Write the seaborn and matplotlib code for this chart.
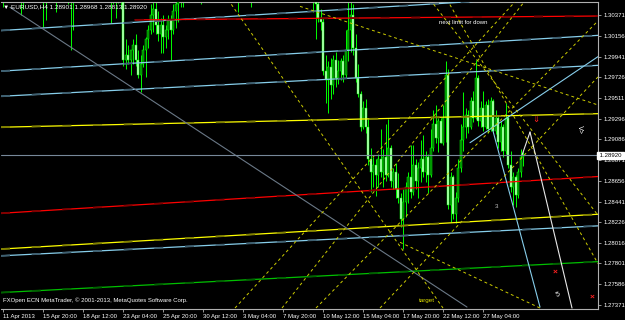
import numpy as np
import matplotlib
matplotlib.use("Agg")
import matplotlib.pyplot as plt
import matplotlib.transforms as mtrans
import seaborn as sns

# ---------------- data ----------------
symbol = "EURUSD,H4"
last_ohlc = ["1.28901", "1.28968", "1.28813", "1.28920"]
current_price = 1.28920
first_open = 1.3063

closes = [1.3069,1.3079,1.3089,1.3084,1.3074,1.3063,1.3058,1.3069,1.3079,1.3094,
 1.3110,1.3115,1.3105,1.3089,1.3074,1.3058,1.3063,1.3074,1.3084,1.3079,
 1.3069,1.3063,1.3074,1.3084,1.3079,1.3069,1.3058,1.3063,1.3074,1.3089,
 1.3105,1.3115,1.3125,1.3136,1.3131,1.3120,1.3110,1.3115,1.3105,1.3094,
 1.3084,1.3074,1.3063,1.3058,1.3069,1.3058,1.3063,1.3053,1.2991,1.2996,
 1.2991,1.3001,1.3006,1.2991,1.2975,1.2986,1.3001,1.3012,1.3022,1.3037,
 1.3043,1.3027,1.3017,1.3027,1.3014,1.3022,1.3032,1.3022,1.3041,1.3048,
 1.3053,1.3058,1.3063,1.3074,1.3084,1.3094,1.3089,1.3079,1.3069,1.3074,
 1.3089,1.3105,1.3120,1.3136,1.3141,1.3146,1.3136,1.3125,1.3115,1.3105,
 1.3094,1.3084,1.3074,1.3069,1.3063,1.3074,1.3084,1.3074,1.3063,1.3058,
 1.3069,1.3084,1.3100,1.3115,1.3131,1.3146,1.3162,1.3156,1.3141,1.3131,
 1.3120,1.3136,1.3125,1.3115,1.3131,1.3146,1.3156,1.3167,1.3151,1.3131,
 1.3110,1.3089,1.3074,1.3063,1.3058,1.3048,1.3034,1.3030,1.2979,1.2970,
 1.2983,1.2965,1.2991,1.2972,1.2979,1.2989,1.2975,1.3001,1.3022,1.3037,
 1.3003,1.2972,1.2955,1.2921,1.2941,1.2921,1.2888,1.2875,1.2882,1.2872,
 1.2888,1.2875,1.2890,1.2872,1.2900,1.2865,1.2875,1.2857,1.2848,1.2826,
 1.2844,1.2859,1.2869,1.2854,1.2882,1.2865,1.2879,1.2888,1.2875,1.2890,
 1.2872,1.2900,1.2924,1.2910,1.2927,1.2905,1.2931,1.2975,1.2841,1.2869,
 1.2831,1.2848,1.2879,1.2908,1.2921,1.2934,1.2921,1.2948,1.2931,1.2972,
 1.2927,1.2941,1.2921,1.2944,1.2919,1.2948,1.2917,1.2931,1.2906,1.2921,
 1.2896,1.2931,1.2882,1.2859,1.2869,1.2851,1.2875,1.2890,1.28920]

highs = [1.3100,1.3094,1.3105,1.3115,1.3110,1.3100,1.3089,1.3084,1.3089,1.3105,
 1.3125,1.3136,1.3141,1.3131,1.3110,1.3094,1.3079,1.3084,1.3100,1.3105,
 1.3100,1.3089,1.3084,1.3094,1.3105,1.3100,1.3084,1.3079,1.3084,1.3100,
 1.3115,1.3131,1.3146,1.3151,1.3156,1.3151,1.3141,1.3136,1.3141,1.3125,
 1.3115,1.3105,1.3094,1.3084,1.3079,1.3084,1.3074,1.3079,1.3069,1.3012,
 1.3006,1.3001,1.3012,1.3017,1.3001,1.2996,1.3006,1.3014,1.3027,1.3048,
 1.3058,1.3053,1.3041,1.3034,1.3037,1.3027,1.3037,1.3037,1.3048,1.3056,
 1.3063,1.3069,1.3074,1.3084,1.3094,1.3105,1.3115,1.3110,1.3094,1.3089,
 1.3100,1.3115,1.3131,1.3146,1.3156,1.3162,1.3167,1.3156,1.3146,1.3136,
 1.3125,1.3115,1.3105,1.3094,1.3089,1.3084,1.3100,1.3105,1.3094,1.3079,
 1.3079,1.3089,1.3110,1.3125,1.3141,1.3156,1.3177,1.3187,1.3182,1.3162,
 1.3151,1.3146,1.3156,1.3146,1.3141,1.3156,1.3172,1.3182,1.3193,1.3172,
 1.3151,1.3131,1.3110,1.3094,1.3084,1.3079,1.3058,1.3043,1.3034,1.2996,
 1.2989,1.2993,1.2996,1.2999,1.2991,1.2993,1.2996,1.3022,1.3058,1.3063,
 1.3048,1.3017,1.2986,1.2958,1.2948,1.2950,1.2929,1.2900,1.2890,1.2888,
 1.2893,1.2919,1.2898,1.2924,1.2929,1.2903,1.2879,1.2884,1.2874,1.2853,
 1.2857,1.2864,1.2875,1.2903,1.2903,1.2888,1.2885,1.2908,1.2913,1.2896,
 1.2893,1.2919,1.2939,1.2944,1.2931,1.2931,1.2944,1.2989,1.2981,1.2875,
 1.2872,1.2854,1.2888,1.2924,1.2957,1.2941,1.2939,1.2952,1.2958,1.2991,
 1.2975,1.2948,1.2958,1.2948,1.2950,1.2952,1.2950,1.2939,1.2934,1.2927,
 1.2924,1.2946,1.2934,1.2896,1.2875,1.2872,1.2879,1.2898,1.28968]

lows = [1.3045,1.3058,1.3063,1.3069,1.3063,1.3058,1.3050,1.3037,1.3043,1.3063,
 1.3079,1.3094,1.3100,1.3084,1.3069,1.3053,1.3025,1.3032,1.3058,1.3063,
 1.3058,1.3040,1.3051,1.3058,1.3069,1.3058,1.3048,1.3001,1.3022,1.3058,
 1.3074,1.3089,1.3100,1.3110,1.3115,1.3110,1.3100,1.3094,1.3100,1.3084,
 1.3074,1.3063,1.3056,1.3029,1.3048,1.3034,1.3049,1.3043,1.2984,1.2981,
 1.2986,1.2975,1.2986,1.2984,1.2972,1.2957,1.2983,1.2973,1.3003,1.3017,
 1.3019,1.3017,1.3010,1.2998,1.2998,1.3003,1.3012,1.2991,1.3017,1.3024,
 1.3030,1.3045,1.3045,1.3050,1.3058,1.3069,1.3079,1.3069,1.3061,1.3048,
 1.3061,1.3074,1.3089,1.3105,1.3120,1.3125,1.3131,1.3115,1.3105,1.3094,
 1.3084,1.3074,1.3063,1.3058,1.3040,1.3055,1.3061,1.3063,1.3053,1.3045,
 1.3051,1.3058,1.3074,1.3089,1.3105,1.3115,1.3131,1.3146,1.3136,1.3120,
 1.3110,1.3105,1.3115,1.3105,1.3100,1.3115,1.3131,1.3141,1.3146,1.3125,
 1.3105,1.3084,1.3069,1.3056,1.3040,1.3012,1.3030,1.3022,1.2975,1.2946,
 1.2936,1.2950,1.2955,1.2963,1.2966,1.2970,1.2968,1.2972,1.2989,1.2999,
 1.2996,1.2968,1.2952,1.2917,1.2919,1.2915,1.2882,1.2854,1.2859,1.2850,
 1.2859,1.2869,1.2859,1.2865,1.2869,1.2859,1.2857,1.2848,1.2843,1.2818,
 1.2795,1.2828,1.2843,1.2848,1.2851,1.2857,1.2848,1.2864,1.2869,1.2864,
 1.2853,1.2869,1.2896,1.2905,1.2895,1.2905,1.2903,1.2906,1.2836,1.2823,
 1.2826,1.2822,1.2844,1.2875,1.2896,1.2910,1.2915,1.2919,1.2926,1.2929,
 1.2922,1.2921,1.2917,1.2919,1.2915,1.2917,1.2915,1.2914,1.2900,1.2896,
 1.2890,1.2893,1.2879,1.2854,1.2841,1.2839,1.2848,1.2869,1.28813]

x_tick_bars = [0, 16, 32, 48, 64, 80, 96, 112, 128, 144, 160, 176, 192]
x_tick_labels = ["11 Apr 2013", "15 Apr 20:00", "18 Apr 12:00", "23 Apr 04:00",
                 "25 Apr 20:00", "30 Apr 12:00", "3 May 04:00", "7 May 20:00",
                 "10 May 12:00", "15 May 04:00", "17 May 20:00", "22 May 12:00",
                 "27 May 04:00"]
y_ticks = [1.30371, 1.30156, 1.29941, 1.29726, 1.29511, 1.29296, 1.29086,
           1.28871, 1.28656, 1.28441, 1.28226, 1.28016, 1.27801, 1.27586, 1.27371]

# drawn objects: (bar1, price1, bar2, price2)
blue_channel = [(-0.8, 1.3021, 238.0, 1.3059), (-0.8, 1.2979, 238.0, 1.3016),
                (-0.8, 1.2953, 238.0, 1.2985), (-0.8, 1.2788, 238.0, 1.2819)]
blue_trend = [(186.8, 1.2905, 238.0, 1.2994), (195.6, 1.2921, 214.8, 1.2735)]
gray_trend = [(2.8, 1.3045, 185.6, 1.2735)]
red_lines = [(52.8, 1.3032, 238.0, 1.3036), (-0.8, 1.2832, 238.0, 1.2870)]
yellow_lines = [(-0.8, 1.2921, 238.0, 1.2935), (-0.8, 1.2795, 238.0, 1.2831)]
green_lines = [(-0.8, 1.2750, 238.0, 1.2782)]
yellow_dashed = [(90.0, 1.3053, 176.0, 1.2734), (118.8, 1.3046, 238.0, 1.2944),
                 (92.8, 1.2734, 205.6, 1.3053), (125.2, 1.2734, 238.0, 1.3031),
                 (150.8, 1.2734, 238.0, 1.2973), (177.6, 1.3053, 238.0, 1.2780),
                 (170.8, 1.3053, 238.0, 1.2830), (111.6, 1.2734, 209.2, 1.3053),
                 (158.8, 1.2802, 214.8, 1.2734)]
white_lines = [(207.6, 1.2892, 210.8, 1.2916), (210.8, 1.2916, 227.6, 1.2734)]
red_marks = [(220.8, 1.2771), (235.6, 1.2745)]

# ---------------- style ----------------
sns.set_theme(style="dark", rc={"axes.facecolor": "black", "figure.facecolor": "black",
                                "axes.grid": False})
plt.rcParams["font.family"] = ["Liberation Sans", "DejaVu Sans"]

W, H = 625, 320
fig = plt.figure(figsize=(W / 100, H / 100), dpi=100, facecolor="black")
ax = fig.add_axes([1 / W, 11 / H, 597 / W, 307 / H])
ax.set_facecolor("black")
ax.set_xlim(-0.8, 238.0)
ax.set_ylim(1.27330, 1.30505)

idx = np.arange(len(closes))
c = np.array(closes)
o = np.r_[first_open, c[:-1]]
h = np.array(highs)
l = np.array(lows)

# candles
ax.vlines(idx, l, h, color="#00ff00", lw=0.7, zorder=2)
bull = c >= o
ax.bar(idx[bull], (c - o)[bull], bottom=o[bull], width=0.8, color="#007a00",
       edgecolor="#00ff00", linewidth=0.35, zorder=3)
ax.bar(idx[~bull], (o - c)[~bull], bottom=c[~bull], width=0.8, color="#c8ffc8",
       edgecolor="#00ff00", linewidth=0.35, zorder=3)


def solid(seg, color, dark, lw=0.9):
    x1, y1, x2, y2 = seg
    sns.lineplot(x=[x1, x2], y=[y1, y2], ax=ax, color=color, lw=lw,
                 estimator=None, sort=False, zorder=4)
    ax.plot([x1, x2], [y1, y2], color=dark, lw=lw + 0.4, dashes=(5, 12), zorder=4)


for s in blue_channel:
    solid(s, "#87ceeb", "#3e5f70")
for s in yellow_lines:
    solid(s, "#ffff00", "#808000")
for s in red_lines:
    solid(s, "#ff0000", "#800000")
for s in green_lines:
    solid(s, "#00c000", "#006000")
for s in blue_trend:
    ax.plot(s[0::2], s[1::2], color="#87ceeb", lw=0.8, zorder=4)
for s in gray_trend:
    ax.plot(s[0::2], s[1::2], color="#6a7886", lw=0.8, zorder=4)
for s in yellow_dashed:
    ax.plot(s[0::2], s[1::2], color="#cccc00", lw=0.7, dashes=(3, 3), zorder=4)
for s in white_lines:
    ax.plot(s[0::2], s[1::2], color="#e8e8e8", lw=0.8, zorder=4)

ax.axhline(current_price, color="#778899", lw=0.8, zorder=4)
for bx, py in red_marks:
    ax.text(bx, py, "\u00d7", color="#ff2020", fontsize=6, ha="center", va="center",
            zorder=6, fontweight="bold")

# annotations
ax.text(174.5, 1.3029, "next limit for down", color="white", fontsize=4.3,
        va="center", ha="left", zorder=6)
ax.text(166.5, 1.2742, "target", color="#e0e000", fontsize=4.5, va="center",
        ha="left", zorder=6)
ax.text(197.5, 1.2839, "3", color="#c0c0c0", fontsize=4.5, va="center",
        ha="center", zorder=6)
ax.text(213.0, 1.2928, "\u21d3", color="#ff2020", fontsize=6, va="center",
        ha="center", zorder=6)
ax.text(232.0, 1.2920, "<\u039b", color="white", fontsize=5, rotation=90,
        va="center", ha="center", zorder=6)
ax.text(222.0, 1.2748, "5", color="white", fontsize=5, rotation=20, va="center",
        ha="center", zorder=6)

# axes styling
for sp in ["left", "bottom", "right", "top"]:
    ax.spines[sp].set_color("#b0b0b0")
    ax.spines[sp].set_linewidth(0.8)
ax.spines["left"].set_visible(False)

ax.yaxis.tick_right()
ax.set_yticks(y_ticks)
ax.set_yticklabels([f"{v:.5f}" for v in y_ticks])
ax.tick_params(axis="y", colors="#b0b0b0", labelcolor="white", labelsize=4.3,
               length=2.5, width=0.6, pad=1.5, right=True, left=False)
ax.set_xticks(x_tick_bars)
ax.set_xticklabels(x_tick_labels)
ax.tick_params(axis="x", colors="#b0b0b0", labelcolor="white", labelsize=4.3,
               length=2.5, width=0.6, pad=1.0, bottom=True)
for lbl in ax.get_xticklabels():
    lbl.set_horizontalalignment("left")
ax.set_xlabel("")
ax.set_ylabel("")

# boxed current price on the scale
trans = mtrans.blended_transform_factory(ax.transAxes, ax.transData)
ax.text(1.0, current_price, " " + last_ohlc[3] + " ", transform=trans, fontsize=4.3,
        color="black", va="center", ha="left", zorder=10, clip_on=False,
        bbox=dict(boxstyle="square,pad=0.15", fc="white", ec="white"))

# header and footer
fig.text(3 / W, 1 - 7 / H, "\u25bc " + symbol + " " + " ".join(last_ohlc),
         color="white", fontsize=4.6, va="center", ha="left")
ax.text(0.004, 0.018, "FXOpen ECN MetaTrader, \u00a9 2001-2013, MetaQuotes Software Corp.",
        transform=ax.transAxes, color="white", fontsize=4.3, va="bottom", ha="left",
        zorder=6)

fig.savefig("out.png", dpi=100, facecolor="black")
